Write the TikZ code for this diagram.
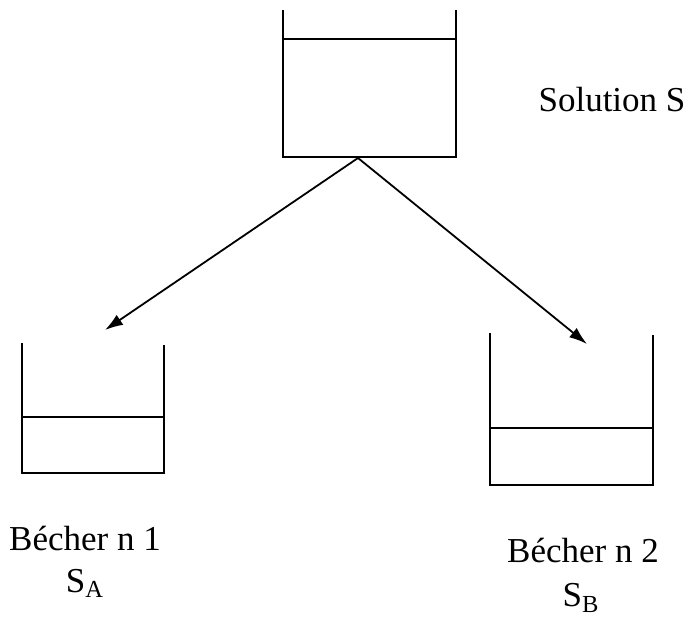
\documentclass[tikz,border=0pt]{standalone}
\usepackage{fontspec}
\setmainfont{Liberation Serif}
\usetikzlibrary{arrows.meta}

\begin{document}
\begin{tikzpicture}[>={Latex[length=9pt,width=6pt]}, x=0.5pt, y=-0.5pt, line width=0.9pt, font=\fontsize{17.5}{20}\selectfont]
		\useasboundingbox (0,0) rectangle (691,617);
		\draw (283,10) -- (283,157) -- (456,157) -- (456,10);
		\draw (283,39) -- (456,39);
		\draw (22,343) -- (22,473) -- (164,473) -- (164,345);
		\draw (22,417) -- (164,417);
		\draw (490,333) -- (490,485) -- (653,485) -- (653,335);
		\draw (490,428) -- (653,428);
		\coordinate (bas) at (358,158);
		\coordinate (versA) at (105,330);
		\coordinate (versB) at (587,344);
		\draw[->] (bas) -- (versA);
		\draw[->] (bas) -- (versB);
		\node (solS) at (612,100) {Solution S};
		\node (becherA) at (85,538) {Bécher n 1};
		\node (solA) at (85,583) {S\textsubscript{A}};
		\node (becherB) at (583,550) {Bécher n 2};
		\node (solB) at (581,598) {S\textsubscript{B}};
	\end{tikzpicture}
\end{document}
